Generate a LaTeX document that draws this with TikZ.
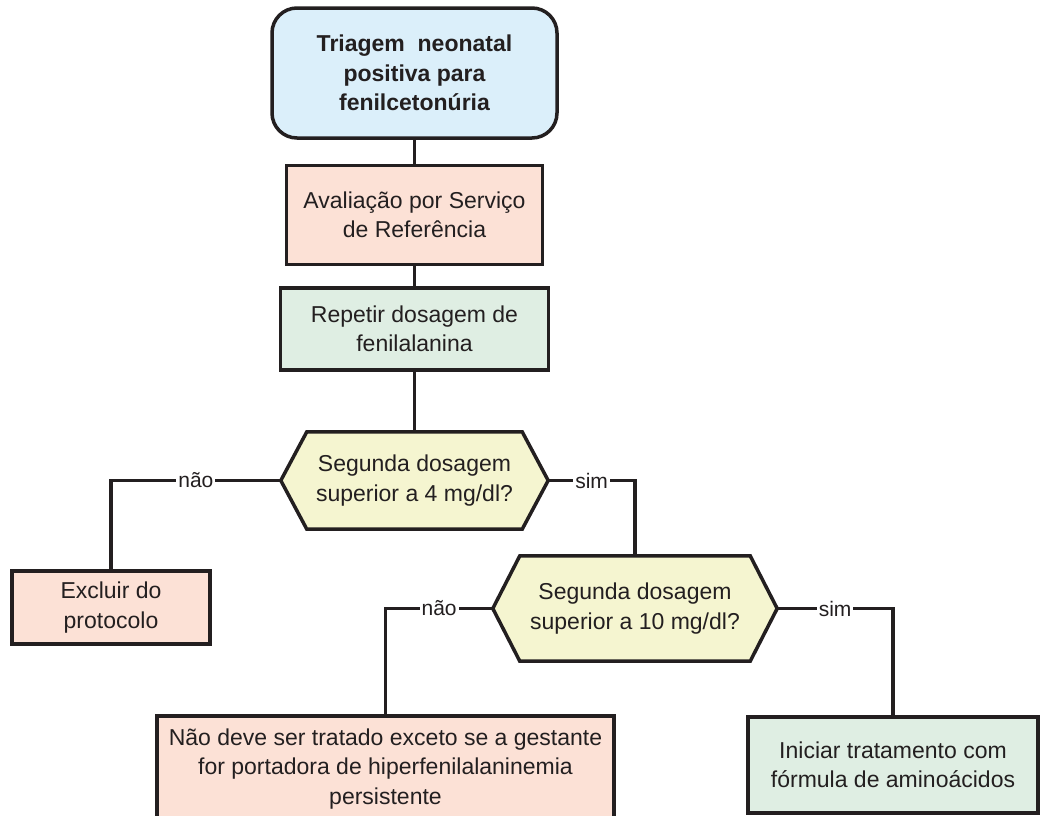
\documentclass[tikz,border=0pt]{standalone}
\usepackage{fontspec}
\setmainfont{Liberation Sans}
\usetikzlibrary{backgrounds}
\definecolor{ink}{HTML}{231F20}
\definecolor{cblue}{HTML}{DBEFFA}
\definecolor{cpeach}{HTML}{FCE1D6}
\definecolor{cgreen}{HTML}{DFEEE3}
\definecolor{cyellow}{HTML}{F5F5D0}
\begin{document}
\begin{tikzpicture}[x=1pt,y=-1pt,
  txt/.style={align=center, text=ink, inner sep=0pt, font=\fontsize{23}{29.5}\selectfont},
  boxed/.style={txt, draw=ink, line width=3.5pt},
  hexcore/.style={txt, minimum width=#1},
  conn/.style={draw=ink, line width=3.5pt},
  hexline/.style={draw=ink, line width=3.5pt, fill=cyellow, line join=miter},
  lbl/.style={fill=white, text=ink, inner sep=2pt, font=\fontsize{21}{24}\selectfont}]
\clip (0,0) rectangle (1041,815);

% nodes
\node[boxed, fill=cblue, rounded corners=25pt, minimum width=285pt, minimum height=130pt, font=\fontsize{23}{29.5}\selectfont\bfseries]
  (top) at (414.5,73) {Triagem\ \ neonatal\\positiva para\\fenilcetonúria};
\node[boxed, fill=cpeach, minimum width=256pt, minimum height=99pt]
  (aval) at (414.5,215) {Avaliação por Serviço\\de Referência};
\node[boxed, fill=cgreen, minimum width=268pt, minimum height=82pt]
  (rep) at (414.5,329) {Repetir dosagem de\\fenilalanina};
\node[hexcore=215pt, minimum height=97pt]
  (h1) at (414.5,480.5) {Segunda dosagem\\superior a 4 mg/dl?};
\node[boxed, fill=cpeach, minimum width=198pt, minimum height=73pt]
  (excl) at (111,607.5) {Excluir do\\protocolo};
\node[hexcore=230pt, minimum height=105pt]
  (h2) at (635,608.5) {Segunda dosagem\\superior a 10 mg/dl?};
\node[boxed, fill=cpeach, minimum width=457pt, minimum height=106pt, anchor=north]
  (nao) at (385.5,714) {Não deve ser tratado exceto se a gestante\\for portadora de hiperfenilalaninemia\\persistente};
\node[boxed, fill=cgreen, minimum width=290pt, minimum height=96pt]
  (inic) at (893,765) {Iniciar tratamento com\\fórmula de aminoácidos};

% hexagon outlines
\coordinate (h1l) at ([xshift=-26pt]h1.west);
\coordinate (h1r) at ([xshift=26pt]h1.east);
\coordinate (h2l) at ([xshift=-27pt]h2.west);
\coordinate (h2r) at ([xshift=27pt]h2.east);
\begin{scope}[on background layer]
  \fill[white] (0,0) rectangle (1041,815);
  \path[hexline] (h1.north west) -- (h1.north east) -- (h1r) -- (h1.south east) -- (h1.south west) -- (h1l) -- cycle;
  \path[hexline] (h2.north west) -- (h2.north east) -- (h2r) -- (h2.south east) -- (h2.south west) -- (h2l) -- cycle;
\end{scope}

% connectors
\draw[conn] (top.south) -- (aval.north);
\draw[conn] (aval.south) -- (rep.north);
\draw[conn] (rep.south) -- (h1.north);
\draw[conn] (h1l) -| node[lbl, pos=0.25] {não} (excl.north);
\draw[conn] (h1r) -| node[lbl, pos=0.25] {sim} (h2.north);
\draw[conn] (h2l) -| node[lbl, pos=0.25] {não} (nao.north);
\draw[conn] (h2r) -| node[lbl, pos=0.25] {sim} (inic.north);
\end{tikzpicture}
\end{document}
